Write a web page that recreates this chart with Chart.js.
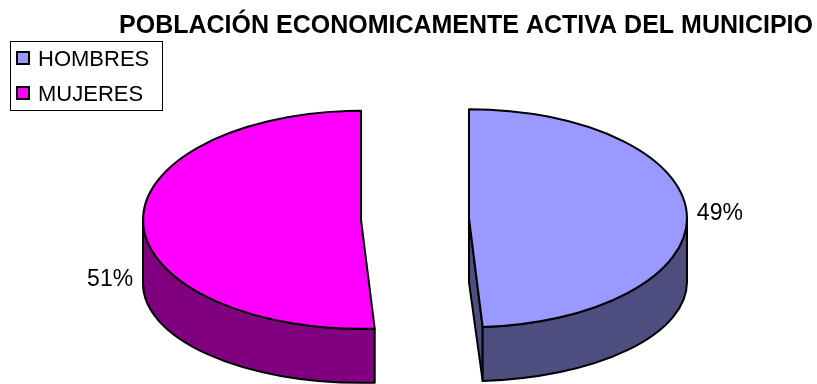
<!DOCTYPE html>
<html>
<head>
<meta charset="utf-8">
<script src="https://cdn.jsdelivr.net/npm/chart.js"></script>
<style>
  body { margin: 0; background: #fff; }
  canvas { display: block; }
</style>
</head>
<body>
<canvas id="pea_chart" width="817" height="384"></canvas>
<script>
const categories = ['HOMBRES', 'MUJERES'];
const values = [49, 51];
const chart_title = 'POBLACIÓN ECONOMICAMENTE ACTIVA DEL MUNICIPIO';

const top_colors = ['#9999FF', '#FF00FF'];
const side_colors = ['#4D4D80', '#800080'];

// draws the pie as a tilted 3D disc using the arcs chart.js lays out
const pie3d = {
  id: 'pie3d',
  beforeDatasetsDraw(chart, args, opts) {
    const { ctx, chartArea } = chart;
    const arcs = chart.getDatasetMeta(0).data;
    const slices = arcs.map((arc, i) => {
      const { x, startAngle, endAngle, outerRadius } = arc.getProps(['x', 'startAngle', 'endAngle', 'outerRadius'], true);
      const rx = outerRadius;
      const ry = rx * opts.tilt;
      const mid = (startAngle + endAngle) / 2;
      const off = arc.options.offset;
      const sx = x + Math.cos(mid) * off;
      const sy = chartArea.top + ry + Math.sin(mid) * off * opts.tilt;
      return { i, a: startAngle, b: endAngle, rx, ry, sx, sy, syB: sy + opts.depth, ryB: ry - opts.shrink };
    });

    ctx.save();
    ctx.lineWidth = opts.lineWidth;
    ctx.strokeStyle = '#000';
    ctx.lineJoin = 'round';

    // walls first
    slices.forEach(s => {
      ctx.fillStyle = side_colors[s.i];
      const face = (t) => {
        ctx.beginPath();
        ctx.moveTo(s.sx, s.sy);
        ctx.lineTo(s.sx + s.rx * Math.cos(t), s.sy + s.ry * Math.sin(t));
        ctx.lineTo(s.sx + s.rx * Math.cos(t), s.syB + s.ryB * Math.sin(t));
        ctx.lineTo(s.sx, s.syB);
        ctx.closePath();
        ctx.fill();
        ctx.stroke();
      };
      if (Math.cos(s.a) < -1e-6) face(s.a);
      if (Math.cos(s.b) > 1e-6) face(s.b);

      [0, 2 * Math.PI, -2 * Math.PI].forEach(k => {
        const t1 = Math.max(s.a, k);
        const t2 = Math.min(s.b, k + Math.PI);
        if (t2 - t1 < 1e-4) return;
        ctx.beginPath();
        ctx.ellipse(s.sx, s.sy, s.rx, s.ry, 0, t1, t2);
        ctx.lineTo(s.sx + s.rx * Math.cos(t2), s.syB + s.ryB * Math.sin(t2));
        ctx.ellipse(s.sx, s.syB, s.rx, s.ryB, 0, t2, t1, true);
        ctx.closePath();
        ctx.fill();
        ctx.stroke();
      });
    });

    // top faces
    slices.forEach(s => {
      ctx.fillStyle = top_colors[s.i];
      ctx.beginPath();
      ctx.moveTo(s.sx, s.sy);
      ctx.ellipse(s.sx, s.sy, s.rx, s.ry, 0, s.a, s.b);
      ctx.closePath();
      ctx.fill();
      ctx.stroke();
    });

    // percentage labels
    const total = values.reduce((acc, v) => acc + v, 0);
    ctx.fillStyle = '#000';
    ctx.font = opts.labelFont;
    ctx.textBaseline = 'middle';
    slices.forEach(s => {
      const mid = (s.a + s.b) / 2;
      const px = s.sx + s.rx * Math.cos(mid);
      const py = s.sy + s.ry * Math.sin(mid);
      const right = Math.cos(mid) >= 0;
      ctx.textAlign = right ? 'left' : 'right';
      const txt = Math.round(values[s.i] / total * 100) + '%';
      ctx.fillText(txt, px + (right ? opts.labelGap : -opts.labelGap), py + opts.labelDrop[s.i]);
    });
    ctx.restore();
    return false;
  },
  afterDraw(chart, args, opts) {
    const { ctx } = chart;
    const box = opts.legendBox;
    ctx.save();
    ctx.strokeStyle = '#000';
    ctx.lineWidth = 1;
    ctx.strokeRect(box.x + 0.5, box.y + 0.5, box.w, box.h);
    ctx.font = opts.legendFont;
    ctx.textBaseline = 'alphabetic';
    ctx.textAlign = 'left';
    categories.forEach((label, i) => {
      const base = box.y + 25 + i * 35;
      ctx.fillStyle = top_colors[i];
      ctx.fillRect(box.x + 7, base - 14, 12, 12);
      ctx.lineWidth = 2;
      ctx.strokeRect(box.x + 7, base - 14, 12, 12);
      ctx.fillStyle = '#000';
      ctx.fillText(label, box.x + 28, base);
    });
    ctx.restore();
  }
};

new Chart(document.getElementById('pea_chart'), {
  type: 'pie',
  data: {
    labels: categories,
    datasets: [{
      data: values,
      backgroundColor: top_colors,
      borderColor: '#000',
      borderWidth: 2,
      offset: 54,
      radius: 218
    }]
  },
  options: {
    responsive: false,
    animation: false,
    layout: { padding: { left: 17, right: 4, top: 0, bottom: 0 } },
    plugins: {
      title: {
        display: true,
        text: chart_title,
        align: 'end',
        color: '#000',
        font: { family: 'Liberation Sans, Arial, sans-serif', size: 25, weight: 'bold' },
        padding: { top: 11, bottom: 69 }
      },
      legend: { display: false },
      tooltip: { enabled: false },
      pie3d: {
        tilt: 0.5,
        depth: 64,
        shrink: 10,
        lineWidth: 2,
        labelFont: '23px "Liberation Sans", Arial, sans-serif',
        labelGap: 10,
        labelDrop: [-1, 56],
        legendFont: '22px "Liberation Sans", Arial, sans-serif',
        legendBox: { x: 10, y: 41, w: 152, h: 69 }
      }
    }
  },
  plugins: [pie3d]
});
</script>
</body>
</html>
